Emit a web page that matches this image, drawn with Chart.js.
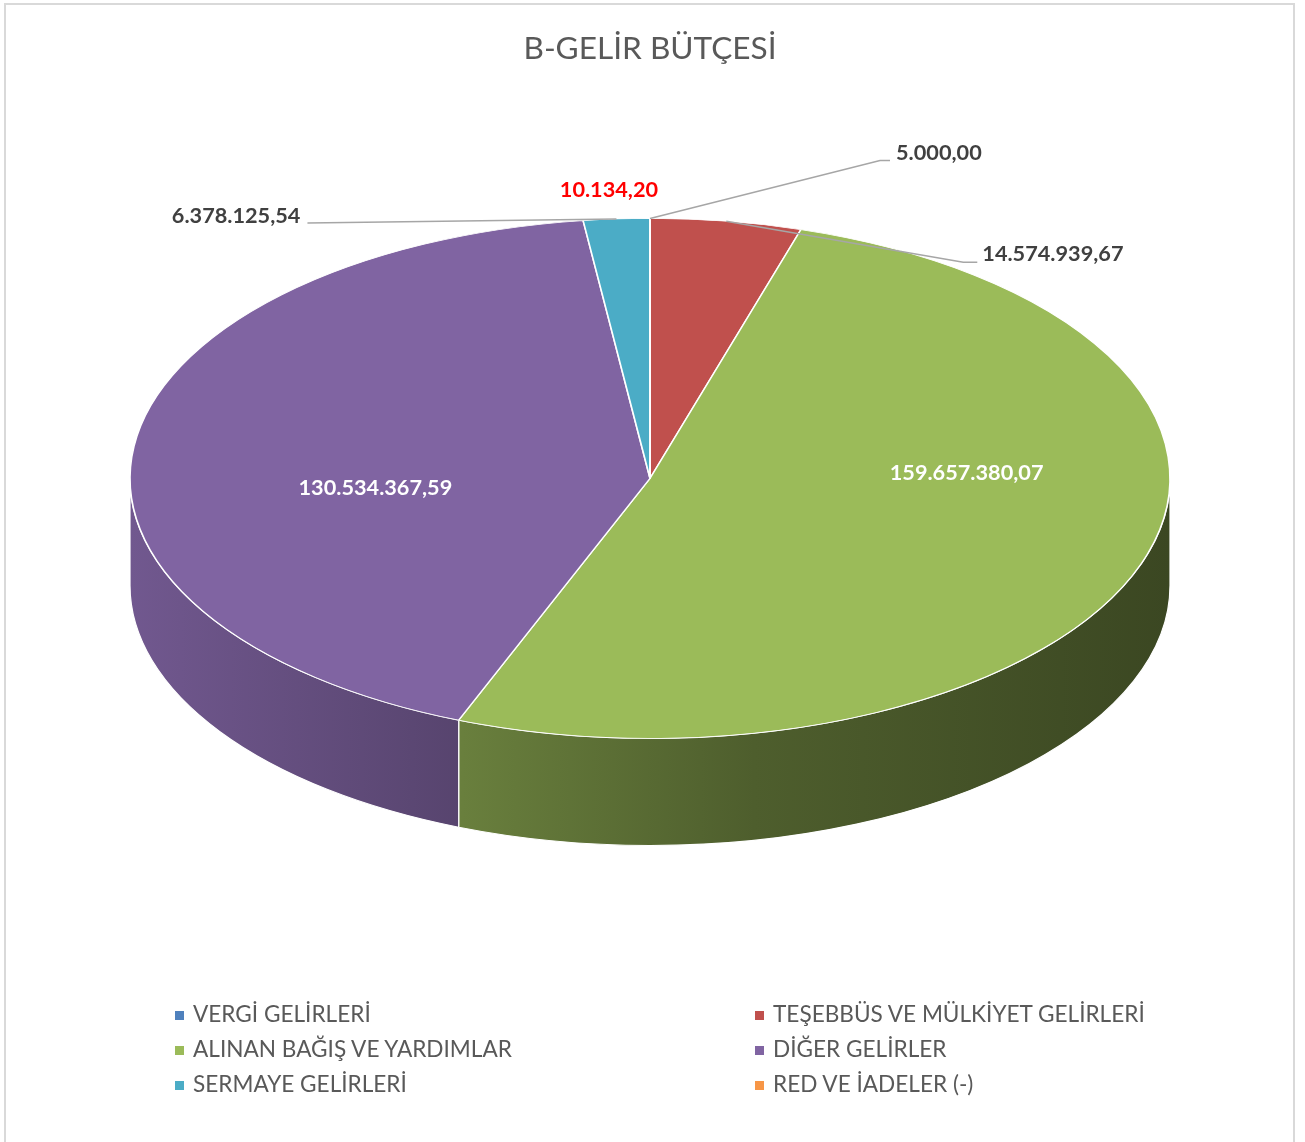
<!DOCTYPE html>
<html>
<head>
<meta charset="utf-8">
<title>B-GELİR BÜTÇESİ</title>
<script src="https://cdn.jsdelivr.net/npm/chart.js@4.4.1/dist/chart.umd.min.js"></script>
<style>
    body { margin: 0; background: #fff; }
    #kutu { position: relative; width: 1305px; height: 1142px; overflow: hidden; }
    #cerceve { position: absolute; left: 4px; top: 3px; width: 1291px; height: 1146px; border: 2px solid #d9d9d9; box-sizing: border-box; }
    #grafik { position: absolute; left: 0; top: 0; }
    .oge { position: absolute; height: 35px; line-height: 35px; white-space: nowrap;
           font-family: Lato, sans-serif; font-size: 22.6px; color: #595959; }
    .kare { display: inline-block; width: 9px; height: 9px; margin-right: 9px; vertical-align: middle; position: relative; top: -1px; }
</style>
</head>
<body>
<div id="kutu">
    <div id="cerceve"></div>
    <canvas id="grafik" width="1305" height="1142"></canvas>
    <div id="lejant"></div>
</div>
<script>
const kategoriler = ['VERGİ GELİRLERİ', 'TEŞEBBÜS VE MÜLKİYET GELİRLERİ', 'ALINAN BAĞIŞ VE YARDIMLAR',
    'DİĞER GELİRLER', 'SERMAYE GELİRLERİ', 'RED VE İADELER (-)'];
const tutarlar = [5000.00, 14574939.67, 159657380.07, 130534367.59, 6378125.54, 10134.20];
const renkler = ['#4f81bd', '#c0504d', '#9bbb59', '#8064a2', '#4bacc6', '#f79646'];

// 3B gorunum ayarlari
const EGIM = 0.5;        // dikey / yatay yaricap
const DERINLIK = 0.206;  // yan yuz yuksekligi / yatay yaricap
const golgeler = [[0, 0.88], [0.32, 0.68], [0.6, 0.5], [1, 0.38]];

// etiket yerleri, dilimin kenar noktasina gore
const etiketAyar = [
    { tip: 'dis', dx: 246, dy: -65, cizgi: [[230, -58], [240, -58]], hiza: 'left' },
    { tip: 'dis', dx: 256, dy: 33, cizgi: [[237, 41], [251, 41]], hiza: 'left' },
    { tip: 'ic', dx: 22, dy: -57, hiza: 'center', renk: '#ffffff' },
    { tip: 'ic', dx: 35, dy: 29, hiza: 'center', renk: '#ffffff' },
    { tip: 'dis', dx: -316, dy: -3, cizgi: [[-309, 4]], hiza: 'right' },
    { tip: 'dis', dx: -41, dy: -28, cizgi: null, hiza: 'center', renk: '#ff0000' }
];

function bicimle(v) {
    const [tam, kesir] = v.toFixed(2).split('.');
    return tam.replace(/\B(?=(\d{3})+(?!\d))/g, '.') + ',' + kesir;
}

function koyulas(hex, f) {
    const n = parseInt(hex.slice(1), 16);
    const r = Math.round(((n >> 16) & 255) * f);
    const g = Math.round(((n >> 8) & 255) * f);
    const b = Math.round((n & 255) * f);
    return `rgb(${r},${g},${b})`;
}

const pasta3d = {
    id: 'pasta3d',
    afterLayout(chart) {
        const a = chart.chartArea;
        const rx = a.width / 2;
        const ry = rx * EGIM;
        const d = rx * DERINLIK;
        chart.$elips = { cx: (a.left + a.right) / 2, cy: a.top + (a.height - 2 * ry - d) / 2 + ry, rx, ry, d };
    },
    beforeDatasetsDraw(chart) {
        const e = chart.$elips;
        const ctx = chart.ctx;
        const meta = chart.getDatasetMeta(0);

        // yan yuzler
        meta.data.forEach((arc, i) => {
            const p = arc.getProps(['startAngle', 'endAngle'], true);
            const a0 = Math.max(p.startAngle, 0);
            const a1 = Math.min(p.endAngle, Math.PI);
            if (a1 <= a0) return;
            const g = ctx.createLinearGradient(e.cx - e.rx, 0, e.cx + e.rx, 0);
            golgeler.forEach(([t, f]) => g.addColorStop(t, koyulas(renkler[i], f)));
            ctx.beginPath();
            ctx.ellipse(e.cx, e.cy, e.rx, e.ry, 0, a0, a1);
            ctx.ellipse(e.cx, e.cy + e.d, e.rx, e.ry, 0, a1, a0, true);
            ctx.closePath();
            ctx.fillStyle = g;
            ctx.fill();
            ctx.strokeStyle = '#ffffff';
            ctx.lineWidth = 1.2;
            ctx.stroke();
        });

        // ust yuz: daireyi elipse cevir
        const q = meta.data[0].getProps(['x', 'y', 'outerRadius'], true);
        ctx.save();
        ctx.translate(e.cx, e.cy);
        ctx.scale(e.rx / q.outerRadius, e.ry / q.outerRadius);
        ctx.translate(-q.x, -q.y);
    },
    afterDatasetsDraw(chart) {
        const ctx = chart.ctx;
        ctx.restore();
        const e = chart.$elips;
        const meta = chart.getDatasetMeta(0);
        ctx.save();
        ctx.font = 'bold 21.7px Lato';
        ctx.textBaseline = 'middle';
        meta.data.forEach((arc, i) => {
            const ayar = etiketAyar[i];
            const p = arc.getProps(['startAngle', 'endAngle'], true);
            const orta = (p.startAngle + p.endAngle) / 2;
            const oran = ayar.tip === 'ic' ? 0.6 : 1;
            const ax = e.cx + oran * e.rx * Math.cos(orta);
            const ay = e.cy + oran * e.ry * Math.sin(orta);
            if (ayar.cizgi) {
                ctx.beginPath();
                ctx.moveTo(ax, ay);
                ayar.cizgi.forEach(([x, y]) => ctx.lineTo(ax + x, ay + y));
                ctx.strokeStyle = '#a6a6a6';
                ctx.lineWidth = 1.5;
                ctx.stroke();
            }
            ctx.fillStyle = ayar.renk || '#404040';
            ctx.textAlign = ayar.hiza;
            ctx.fillText(bicimle(tutarlar[i]), ax + ayar.dx, ay + ayar.dy);
        });
        ctx.restore();
    }
};

const grafik = new Chart(document.getElementById('grafik'), {
    type: 'pie',
    data: {
        labels: kategoriler,
        datasets: [{
            data: tutarlar,
            backgroundColor: renkler,
            borderColor: '#ffffff',
            borderWidth: 1.4,
            clip: false
        }]
    },
    options: {
        responsive: false,
        animation: false,
        events: [],
        layout: { padding: { left: 130, right: 135, top: 0, bottom: 166 } },
        plugins: {
            legend: { display: false },
            tooltip: { enabled: false },
            title: {
                display: true,
                text: 'B-GELİR BÜTÇESİ',
                color: '#595959',
                font: { family: 'Lato', size: 31.6, weight: 'normal' },
                padding: { top: 30, bottom: 20 }
            }
        }
    },
    plugins: [pasta3d]
});

// lejant: iki sutun
const lejant = document.getElementById('lejant');
grafik.data.labels.forEach((ad, i) => {
    const oge = document.createElement('div');
    oge.className = 'oge';
    oge.style.left = (i % 2 === 0 ? 175 : 755) + 'px';
    oge.style.top = (996 + Math.floor(i / 2) * 35) + 'px';
    oge.innerHTML = `<span class="kare" style="background:${grafik.data.datasets[0].backgroundColor[i]}"></span>${ad}`;
    lejant.appendChild(oge);
});
</script>
</body>
</html>
